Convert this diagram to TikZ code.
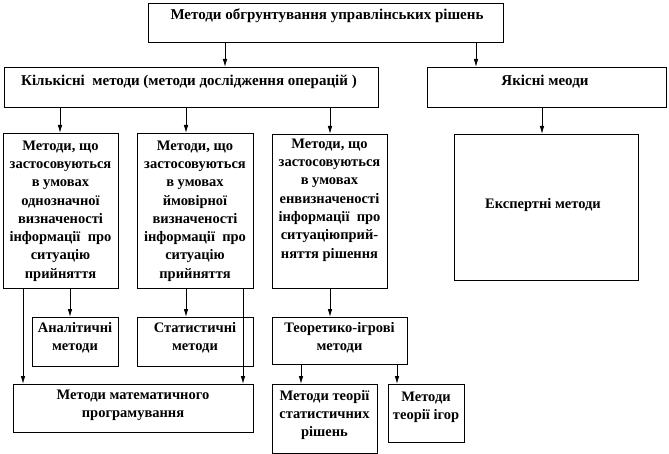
\documentclass[tikz,border=0pt]{standalone}
\usepackage{fontspec}
\setmainfont{Liberation Serif}
\usetikzlibrary{arrows.meta}
\begin{document}
\begin{tikzpicture}[x=1pt,y=-1pt,
  box/.style={draw,line width=0.9pt,inner sep=0pt,anchor=north west},
  txt/.style={inner sep=0pt,align=center,font=\bfseries\fontsize{14.5}{18.3}\selectfont},
  head/.style={txt,font=\bfseries\fontsize{15}{18.3}\selectfont},
  arr/.style={line width=0.8pt,-{Latex[length=8pt,width=4.5pt]}}]
\useasboundingbox (0,0) rectangle (669,454);
\newcommand{\bx}[5]{\node[box,minimum width=#4-#2,minimum height=#5-#3] (#1) at (#2,#3) {};}
\bx{top}{148}{3}{503}{42}
\bx{quant}{4}{67}{378}{107}
\bx{qual}{427}{67}{666}{107}
\bx{b1}{3}{133}{118}{288}
\bx{b2}{137}{133}{253}{288}
\bx{b3}{272}{134}{387}{288}
\bx{expert}{454}{134}{638}{280}
\bx{anal}{32}{317}{118}{366}
\bx{stat}{137}{317}{253}{366}
\bx{teor}{272}{317}{407}{364}
\bx{math}{13}{384}{253}{432}
\bx{tstat}{272}{384}{377}{453}
\bx{tigor}{388}{384}{464}{442}

\node[head] (ttop) at (327,16) {Методи обгрунтування управлінських рішень};
\node[head] (tquant) at (189,82) {Кількісні\ \ методи (методи дослідження операцій )};
\node[head] (tqual) at (545,82) {Якісні меоди};
\node[txt] (tb1) at (60.5,211) {Методи, що\\застосовуються\\в умовах\\однозначної\\визначеності\\інформації\ \ про\\ситуацію\\прийняття};
\node[txt] (tb2) at (195,211) {Методи, що\\застосовуються\\в умовах\\ймовірної\\визначеності\\інформації\ \ про\\ситуацію\\прийняття};
\node[txt] (tb3) at (329.5,200) {Методи, що\\застосовуються\\в умовах\\енвизначеності\\інформації\ \ про\\ситуаціюприй-\\няття рішення};
\node[txt] (texp) at (543,205) {Експертні методи};
\node[txt] (tanal) at (75,338) {Аналітичні\\методи};
\node[txt] (tstatt) at (195,338) {Статистичні\\методи};
\node[txt] (tteor) at (339.5,338) {Теоретико-ігрові\\методи};
\node[txt] (tmath) at (133,405) {Методи математичного\\програмування};
\node[txt] (ttstat) at (324.5,415) {Методи теорії\\статистичних\\рішень};
\node[txt] (ttigor) at (426,407) {Методи\\теорії ігор};

\draw[arr] (top.south -| 225,0) -- (quant.north -| 225,0);
\draw[arr] (top.south -| 476,0) -- (qual.north -| 476,0);
\draw[arr] (quant.south -| 60,0) -- (b1.north -| 60,0);
\draw[arr] (quant.south -| 186,0) -- (b2.north -| 186,0);
\draw[arr] (quant.south -| 330,0) -- (b3.north -| 330,0);
\draw[arr] (qual.south -| 542,0) -- (expert.north -| 542,0);
\draw[arr] (b1.south -| 70,0) -- (anal.north -| 70,0);
\draw[arr] (b1.south -| 23,0) -- (math.north -| 23,0);
\draw[arr] (b2.south -| 186,0) -- (stat.north -| 186,0);
\draw[arr] (b2.south -| 243,0) -- (math.north -| 243,0);
\draw[arr] (b3.south -| 330,0) -- (teor.north -| 330,0);
\draw[arr] (teor.south -| 301,0) -- (tstat.north -| 301,0);
\draw[arr] (teor.south -| 397,0) -- (tigor.north -| 397,0);
\end{tikzpicture}
\end{document}
